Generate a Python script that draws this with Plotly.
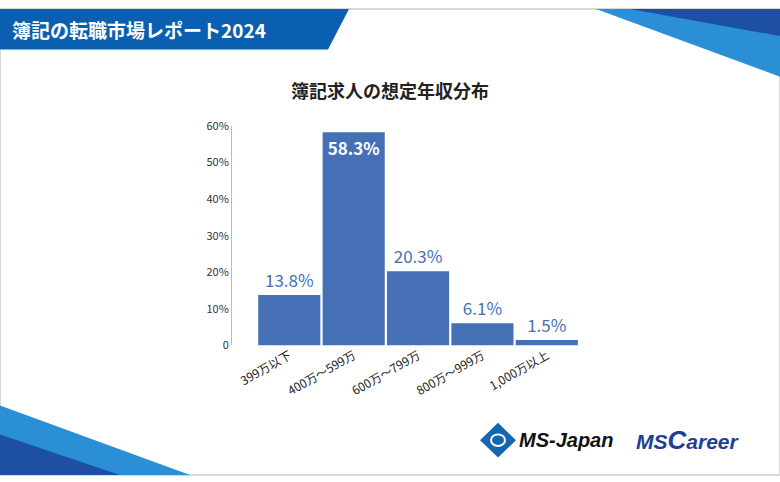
import plotly.graph_objects as go

categories = ["399万以下", "400万～599万", "600万～799万", "800万～999万", "1,000万以上"]
values = [13.8, 58.3, 20.3, 6.1, 1.5]
labels = ["13.8%", "<b>58.3%</b>", "20.3%", "6.1%", "1.5%"]
tick_vals = [0, 10, 20, 30, 40, 50, 60]
tick_text = ["0", "10%", "20%", "30%", "40%", "50%", "60%"]

W, H = 780, 482
blue = "#4570b5"
fig = go.Figure()
fig.add_trace(go.Bar(
    x=categories, y=values, marker=dict(color=blue, line=dict(width=0)),
    text=labels, textposition=["outside", "inside", "outside", "outside", "outside"],
    insidetextanchor="end",
    textfont=dict(size=17, color=[blue, "white", blue, blue, blue], family="Noto Sans CJK JP"),
    cliponaxis=False,
))
fig.update_layout(
    width=W, height=H, paper_bgcolor="white", plot_bgcolor="white",
    margin=dict(l=0, r=0, t=0, b=0),
    bargap=0.035, showlegend=False,
    font=dict(family="Noto Sans CJK JP", color="#333"),
    xaxis=dict(domain=[232 / W, 579 / W], range=[-0.89, 4.5], tickangle=-30,
               tickfont=dict(size=12, color="#222"), showline=False, ticks=""),
    yaxis=dict(domain=[134 / H, 361 / H], range=[0, 60], tickvals=tick_vals, ticktext=tick_text,
               showgrid=False, showline=True, linecolor="#bbb",
               tickfont=dict(size=11, color="#333"), zeroline=False),
)

def P(pts):
    return "M " + " L ".join(f"{x / W:.4f} {1 - y / H:.4f}" for x, y in pts) + " Z"

shapes = [
    dict(type="rect", xref="paper", yref="paper", x0=0, y0=0, x1=1, y1=1,
         line=dict(color="#d8d8d8", width=2), fillcolor="rgba(0,0,0,0)"),
    dict(type="path", xref="paper", yref="paper",
         path=P([(0, 0), (349, 0), (328, 42), (0, 42)]), fillcolor="#0b5fb0", line=dict(width=0)),
    dict(type="path", xref="paper", yref="paper",
         path=P([(596, 0), (780, 0), (780, 70)]), fillcolor="#2a8fd4", line=dict(width=0)),
    dict(type="path", xref="paper", yref="paper",
         path=P([(630, 0), (780, 0), (780, 28)]), fillcolor="#1d4fa3", line=dict(width=0)),
    dict(type="path", xref="paper", yref="paper",
         path=P([(0, 410), (190, 482), (0, 482)]), fillcolor="#2a8fd4", line=dict(width=0)),
    dict(type="path", xref="paper", yref="paper",
         path=P([(0, 440), (120, 482), (0, 482)]), fillcolor="#1d4fa3", line=dict(width=0)),
    dict(type="path", xref="paper", yref="paper",
         path=P([(498, 428), (516, 446), (498, 464), (480, 446)]), fillcolor="#1566b0", line=dict(width=0)),
    dict(type="circle", xref="paper", yref="paper", x0=491 / W, y0=1 - 452 / H, x1=505 / W, y1=1 - 440 / H,
         fillcolor="rgba(0,0,0,0)", line=dict(color="white", width=2)),
]
fig.update_layout(shapes=shapes)
fig.add_annotation(text="<b>簿記の転職市場レポート2024</b>", x=10 / W, y=1 - 21 / H, xref="paper", yref="paper",
                   xanchor="left", yanchor="middle", showarrow=False,
                   font=dict(size=19, color="white", family="Noto Sans CJK JP"))
fig.add_annotation(text="<b>簿記求人の想定年収分布</b>", x=0.5, y=1 - 84 / H, xref="paper", yref="paper",
                   xanchor="center", yanchor="middle", showarrow=False,
                   font=dict(size=18, color="#222", family="Noto Sans CJK JP"))
fig.add_annotation(text="<b><i>MS-Japan</i></b>", x=517 / W, y=1 - 446 / H, xref="paper", yref="paper",
                   xanchor="left", yanchor="middle", showarrow=False,
                   font=dict(size=20, color="#111", family="Liberation Sans"))
fig.add_annotation(text="<b><i>MS<span style='font-size:26px'>C</span>areer</i></b>", x=634 / W, y=1 - 446 / H,
                   xref="paper", yref="paper", xanchor="left", yanchor="middle", showarrow=False,
                   font=dict(size=21, color="#1d3f95", family="Liberation Sans"))
fig.write_html("out.html", config={"displayModeBar": False},
               post_script="document.documentElement.style.margin='0';document.body.style.margin='0';document.body.style.padding='0';")
